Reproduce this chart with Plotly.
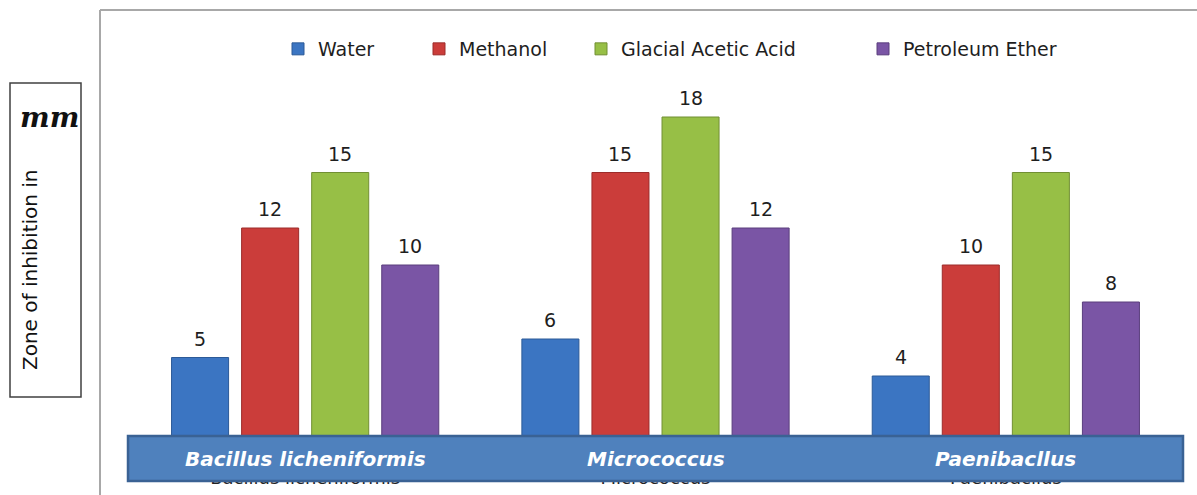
import plotly.graph_objects as go

# Zone of inhibition (mm) for each extract against each organism
organisms = ["Bacillus licheniformis", "Micrococcus", "Paenibacllus"]
water = [5, 6, 4]
methanol = [12, 15, 10]
glacial_acetic_acid = [15, 18, 15]
petroleum_ether = [10, 12, 8]

series = [
    ("Water", water, "#3b75c2", "#2c5a97"),
    ("Methanol", methanol, "#cb3d3a", "#9c2c2a"),
    ("Glacial Acetic Acid", glacial_acetic_acid, "#97bf46", "#718f33"),
    ("Petroleum Ether", petroleum_ether, "#7a55a5", "#5a3e7d"),
]

W, H = 1197, 495
L, R, T, B = 130, 16, 80, 45
pw, ph = W - L - R, H - T - B
BARGAP = 0.2
slot_px = pw / len(organisms) * (1 - BARGAP) / len(series)


def px_x(x):
    return (x - L) / pw


def px_y(y):
    return (H - B - y) / ph


FONT = "DejaVu Sans"
legend_names = ["legend", "legend2", "legend3", "legend4"]
legend_text_x = [318, 459, 621, 903]

fig = go.Figure()
annotations = []
for i, ((name, vals, color, edge), lg) in enumerate(zip(series, legend_names)):
    fig.add_trace(go.Bar(
        name=name, x=organisms, y=vals,
        marker=dict(color=color, line=dict(color=edge, width=1)),
        legend=lg,
    ))
    # value label above each bar of this series
    for org, v in zip(organisms, vals):
        annotations.append(dict(
            text=str(v), x=org, y=v, xref="x", yref="y", showarrow=False,
            xshift=(i - (len(series) - 1) / 2) * slot_px, yshift=19,
            xanchor="center", yanchor="middle",
            font=dict(family=FONT, size=19, color="#1e1e1e"),
        ))

layout_legends = {}
for lg, tx in zip(legend_names, legend_text_x):
    layout_legends[lg] = dict(
        x=px_x(tx - 40), xanchor="left", y=px_y(49), yanchor="middle",
        orientation="h", bgcolor="rgba(0,0,0,0)",
        font=dict(family=FONT, size=19, color="#1e1e1e"),
    )

shapes = [
    # outer chart frame (left and top edges)
    dict(type="line", xref="paper", yref="paper", x0=px_x(100), x1=px_x(100),
         y0=px_y(10), y1=px_y(H + 5), line=dict(color="#a8a8a8", width=2), layer="below"),
    dict(type="line", xref="paper", yref="paper", x0=px_x(100), x1=px_x(W + 5),
         y0=px_y(10), y1=px_y(10), line=dict(color="#a8a8a8", width=2), layer="below"),
    # axis title box
    dict(type="rect", xref="paper", yref="paper", x0=px_x(10), x1=px_x(81),
         y0=px_y(397), y1=px_y(83), line=dict(color="#404040", width=1.5),
         fillcolor="rgba(0,0,0,0)", layer="below"),
    # category band over the base of the bars
    dict(type="rect", xref="paper", yref="paper", x0=px_x(128), x1=px_x(1183),
         y0=px_y(481), y1=px_y(436), line=dict(color="#3a6294", width=2.5),
         fillcolor="#4f81bd", layer="above"),
]

annotations += [
    dict(text="<b><i>mm</i></b>", xref="paper", yref="paper", x=px_x(49), y=px_y(118),
         xanchor="center", yanchor="middle", showarrow=False,
         font=dict(family="DejaVu Serif", size=28, color="#111")),
    dict(text="Zone of inhibition in", xref="paper", yref="paper", x=px_x(30), y=px_y(270),
         xanchor="center", yanchor="middle", showarrow=False, textangle=-90,
         font=dict(family=FONT, size=20, color="#111")),
]
for org in organisms:
    annotations.append(dict(
        text="<b><i>%s</i></b>" % org, x=org, xref="x", yref="paper", y=px_y(459),
        xanchor="center", yanchor="middle", showarrow=False,
        font=dict(family=FONT, size=20, color="white"),
    ))

fig.update_layout(
    width=W, height=H,
    margin=dict(l=L, r=R, t=T, b=B, autoexpand=False),
    paper_bgcolor="white", plot_bgcolor="white",
    barmode="group", bargap=BARGAP, bargroupgap=0.186,
    showlegend=True,
    xaxis=dict(showgrid=False, showline=False, ticks="", ticklabelstandoff=15,
               automargin=False,
               tickfont=dict(family=FONT, size=18, color="#222")),
    yaxis=dict(range=[0, 20], showgrid=False, showline=False, zeroline=False,
               showticklabels=False, ticks="", automargin=False),
    shapes=shapes, annotations=annotations,
    **layout_legends,
)

fig.write_html("out.html")
